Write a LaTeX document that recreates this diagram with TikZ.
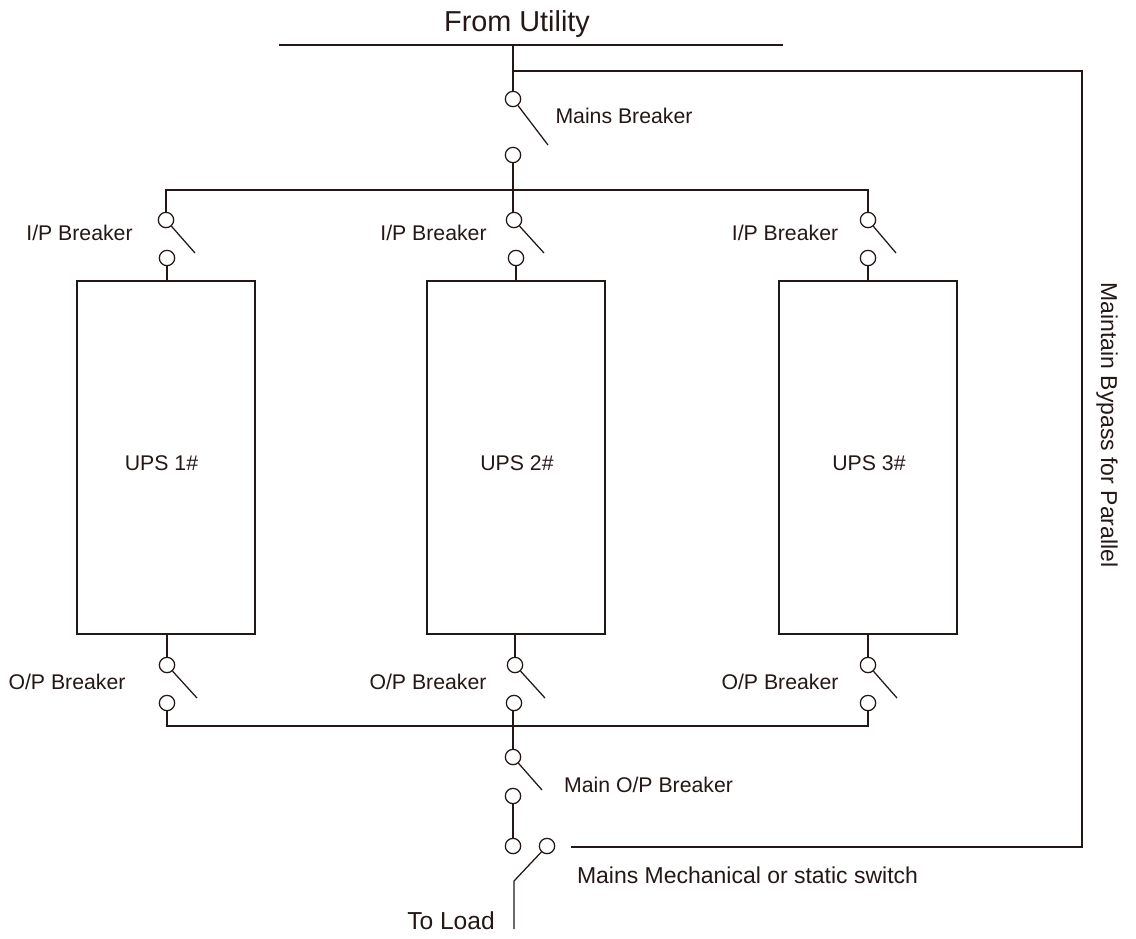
\documentclass[tikz,border=0pt]{standalone}
\usepackage{fontspec}
\setmainfont{Liberation Sans}
\usepackage{tikz}
\definecolor{wire}{HTML}{231815}
\tikzset{
  term/.style={circle,draw=wire,line width=0.95pt,fill=white,inner sep=0pt,minimum size=11.5bp},
  ups/.style={rectangle,draw=wire,line width=0.95pt,minimum width=133.5bp,minimum height=264.75bp},
  lbl/.style={text=wire,inner sep=0pt,font=\fontsize{16}{18}\selectfont},
  widelbl/.style={text=wire,inner sep=0pt,font=\fontsize{17.3}{19}\selectfont},
  biglbl/.style={text=wire,inner sep=0pt,font=\fontsize{18.5}{20}\selectfont}
}
\begin{document}
\begin{tikzpicture}[x=0.75bp,y=-0.75bp,line width=0.95pt,draw=wire]
\useasboundingbox (0,0) rectangle (1136,938);
\node (utility) at (517,24) [biglbl,font=\fontsize{21.7}{24}\selectfont] {From Utility};
\coordinate (barl) at (279,45);
\coordinate (barr) at (783,45);
\coordinate (bartap) at (513,45);
\coordinate (bypasstop) at (513,71);
\coordinate (bypassne) at (1082,71);
\coordinate (bypassse) at (1082,847);
\coordinate (bypassend) at (571,847);
\draw (barl) -- (barr);
% mains breaker
\node (mainstop) at (513,99) [term] {};
\node (mainsbot) at (513,155) [term] {};
\coordinate (mainsblade) at (548,145);
\draw (bartap) -- (mainstop);
\draw (mainstop) -- (mainsblade);
\node (mainslbl) at (624,116) [lbl] {Mains Breaker};
% input bus
\coordinate (inbusl) at (166,190);
\coordinate (inbusr) at (868,190);
% input breakers
\node (ip1top) at (166,220) [term] {};
\node (ip1bot) at (167,258) [term] {};
\node (ip2top) at (514,220) [term] {};
\node (ip2bot) at (516,258) [term] {};
\node (ip3top) at (868,220) [term] {};
\node (ip3bot) at (868,258) [term] {};
\coordinate (ip1blade) at (195,253);
\coordinate (ip2blade) at (544,253);
\coordinate (ip3blade) at (896,253);
\node (ip1lbl) at (79.5,233) [lbl] {I/P Breaker};
\node (ip2lbl) at (433.5,233) [lbl] {I/P Breaker};
\node (ip3lbl) at (785,233) [lbl] {I/P Breaker};
% ups units
\node (ups1) at (166,457.5) [ups] {};
\node (ups2) at (516,457.5) [ups] {};
\node (ups3) at (868,457.5) [ups] {};
\node (ups1lbl) at (161.5,463.5) [lbl] {UPS 1\#};
\node (ups2lbl) at (517,463.5) [lbl] {UPS 2\#};
\node (ups3lbl) at (869,463.5) [lbl] {UPS 3\#};
% output breakers
\node (op1top) at (167,665) [term] {};
\node (op1bot) at (167,703) [term] {};
\node (op2top) at (515,665) [term] {};
\node (op2bot) at (514,703) [term] {};
\node (op3top) at (868,665) [term] {};
\node (op3bot) at (868,703) [term] {};
\coordinate (op1blade) at (197,698);
\coordinate (op2blade) at (545,698);
\coordinate (op3blade) at (897,698);
\node (op1lbl) at (67,682) [lbl] {O/P Breaker};
\node (op2lbl) at (428,682) [lbl] {O/P Breaker};
\node (op3lbl) at (780,682) [lbl] {O/P Breaker};
% output bus
\coordinate (outbusl) at (167,726);
\coordinate (outbusm) at (513,726);
\coordinate (outbusr) at (868,726);
\draw (ip1top) -- (ip1top |- inbusl) -- (ip3top |- inbusr) -- (ip3top);
\draw (mainsbot) -- (mainsbot |- ip2top.north);
\draw (ip1top) -- (ip1blade);
\draw (ip2top) -- (ip2blade);
\draw (ip3top) -- (ip3blade);
\draw (ip1bot) -- (ip1bot |- ups1.north);
\draw (ip2bot) -- (ip2bot |- ups2.north);
\draw (ip3bot) -- (ip3bot |- ups3.north);
\draw (ups1.south -| op1top) -- (op1top);
\draw (ups2.south -| op2top) -- (op2top);
\draw (ups3.south -| op3top) -- (op3top);
\draw (op1top) -- (op1blade);
\draw (op2top) -- (op2blade);
\draw (op3top) -- (op3blade);
\draw (op1bot) -- (outbusl) -- (outbusr) -- (op3bot);
% main output breaker
\node (maintop) at (513,757) [term] {};
\node (mainbot) at (513,796) [term] {};
\coordinate (mainblade) at (542,790);
\draw (op2bot.south -| maintop) -- (maintop);
\draw (maintop) -- (mainblade);
\node (mainlbl) at (648.5,785) [lbl] {Main O/P Breaker};
% transfer switch
\node (swa) at (513,846) [term] {};
\node (swb) at (547,846) [term] {};
\coordinate (swknee) at (514,881);
\coordinate (loadend) at (514,929);
\draw (mainbot) -- (swa);
\draw (swb) -- (swknee) -- (loadend);
\node (swlbl) at (747.5,875) [widelbl] {Mains Mechanical or static switch};
\node (loadlbl) at (451,921) [biglbl] {To Load};
% maintain bypass
\draw (bypasstop) -- (bypassne) -- (bypassse) -- (bypassend);
\node (bypasslbl) at (1107,425) [widelbl,rotate=-90] {Maintain Bypass for Parallel};
\end{tikzpicture}
\end{document}
